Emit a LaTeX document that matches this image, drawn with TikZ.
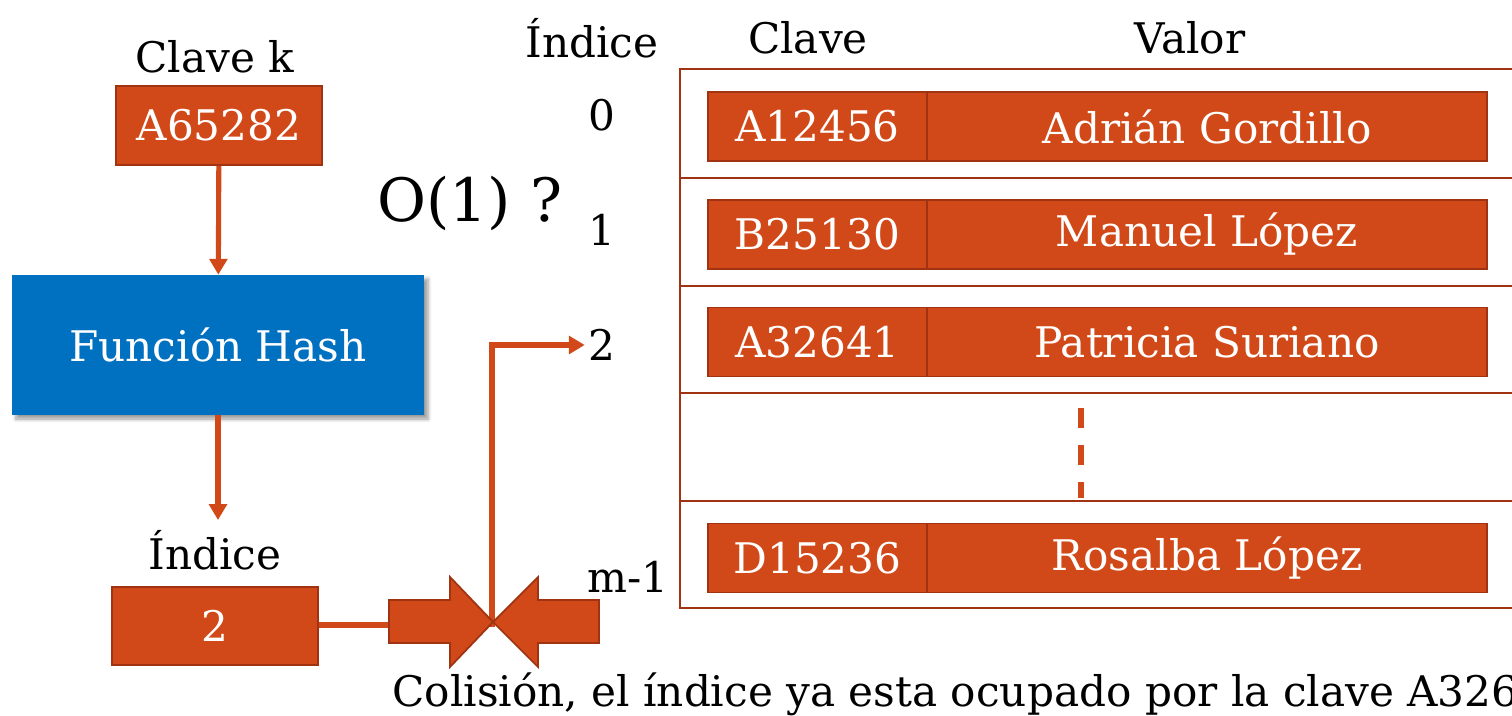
\documentclass[tikz,border=0pt]{standalone}
\usepackage{fontspec}
\setmainfont{DejaVu Serif}
\usetikzlibrary{arrows.meta,shadows.blur}
\definecolor{naranja}{RGB}{209,73,24}
\definecolor{borde}{RGB}{160,52,18}
\definecolor{azul}{RGB}{0,112,192}
\tikzset{
	txt/.style={font=\fontsize{24}{28}\selectfont,inner sep=2pt},
	caja/.style={txt,rectangle,fill=naranja,draw=borde,line width=1pt,text=white,inner sep=0pt},
	conn/.style={draw=naranja,line width=2.9pt,-{Triangle[width=10pt,length=9pt]}},
	linea/.style={draw=borde,line width=1.2pt},
	choque/.style={fill=naranja,draw=borde,line width=1pt,line join=miter},
}

\begin{document}
\begin{tikzpicture}[x=0.2mm,y=-0.2mm]
	\useasboundingbox (0,0) rectangle (1512,716);
	\clip (0,0) rectangle (1512,716);
	\node[txt] (lblk) at (215,57) {Clave k};
	\node[caja,minimum width=41.2mm,minimum height=15.8mm] (keyin) at (219,125.5) {A65282};
	\node[txt,rectangle,fill=azul,text=white,minimum width=82.4mm,minimum height=28mm,
		blur shadow={shadow xshift=0.8mm,shadow yshift=-0.8mm,shadow blur steps=6,shadow opacity=40}] (hash) at (218,345) {Función Hash};
	\node[txt] (lblidx) at (215,550) {Índice};
	\node[caja,minimum width=41.2mm,minimum height=15.6mm] (idx) at (215,626) {2};
	\draw[conn] (keyin) -- (hash);
	\draw[conn] (hash) -- (218,520);
	\node[font=\fontsize{34}{40}\selectfont] (orden) at (470,203) {O(1) ?};
	\node[txt] (hidx) at (592,38) {Índice};
	\node[txt] (hclave) at (808,38) {Clave};
	\node[txt] (hvalor) at (1190,38) {Valor};
	\node[txt] (i0) at (602,115) {0};
	\node[txt] (i1) at (602,230) {1};
	\node[txt] (i2) at (602,345) {2};
	\node[txt] (im) at (628,577) {m-1};
	\draw[linea] (680,69) rectangle (1560,608);
	\foreach \y in {178,286,393,501}
		\draw[linea] (680,\y) -- (1560,\y);
	\foreach \n/\y/\k/\v in {0/126.5/A12456/Adrián Gordillo,1/234.5/B25130/Manuel López,2/342/A32641/Patricia Suriano,m/558/D15236/Rosalba López}{
		\node[caja,minimum width=43.8mm,minimum height=13.8mm] (k\n) at (817.5,\y) {\k};
		\node[caja,minimum width=112mm,minimum height=13.8mm] (v\n) at (1207,\y) {\v};
	}
	\draw[naranja,line width=2.9pt,dash pattern=on 4mm off 3.4mm] (1081,408) -- (1081,498);
	\coordinate (punta) at (493,622);
	\coordinate (cola) at (389,625);
	\draw[naranja,line width=2.9pt] (idx.east |- cola) -- (cola);
	\draw[conn] (492,627) -- (492,345) -- (i2.west);
	\draw[choque] (389,600) -- (450,600) -- (450,577) -- (punta) -- (450,667) -- (450,643) -- (389,643) -- cycle;
	\draw[choque] (599,600) -- (538,600) -- (538,577) -- (punta) -- (538,667) -- (538,643) -- (599,643) -- cycle;
	\node[txt,anchor=base west,inner sep=0pt] (nota) at (392,706) {Colisión, el índice ya esta ocupado por la clave A32641};
\end{tikzpicture}
\end{document}
